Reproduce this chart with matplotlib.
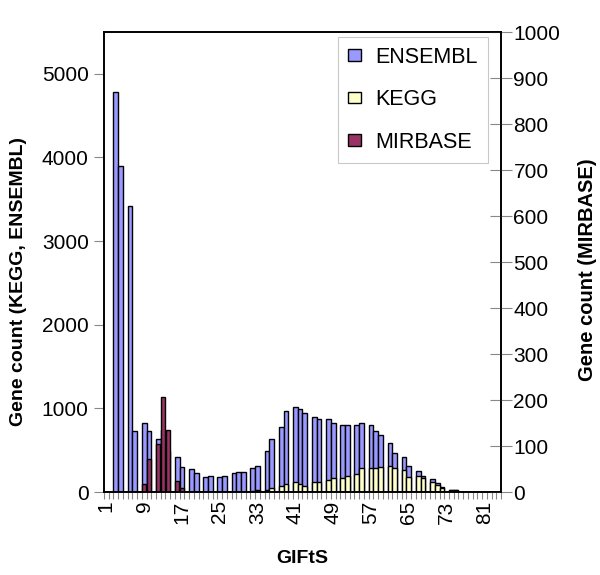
import numpy as np
import matplotlib
matplotlib.use("Agg")
import matplotlib.pyplot as plt
from matplotlib.ticker import FixedLocator

plt.rcParams['font.family'] = ['Liberation Sans', 'DejaVu Sans']

categories = list(range(1, 85))

ensembl = {3: 4780, 4: 3900, 6: 3420, 7: 733, 9: 821, 10: 733, 12: 634, 13: 740,
           14: 490, 16: 415, 17: 295, 19: 271, 20: 223, 22: 183, 23: 195, 25: 183,
           26: 195, 28: 223, 29: 243, 30: 243, 32: 290, 33: 315, 35: 490, 36: 634,
           38: 775, 39: 970, 41: 1020, 42: 992, 43: 945, 45: 900, 46: 873, 48: 869,
           49: 825, 51: 801, 52: 801, 54: 801, 55: 821, 57: 801, 58: 729, 59: 678,
           61: 582, 62: 462, 64: 414, 65: 311, 67: 247, 68: 195, 70: 151, 71: 104,
           72: 60, 74: 28, 75: 28}
kegg = {32: 10, 33: 24, 35: 24, 36: 48, 38: 72, 39: 92, 41: 124, 42: 96, 43: 72,
        45: 124, 46: 124, 48: 143, 49: 163, 51: 171, 52: 187, 54: 215, 55: 283,
        57: 283, 58: 283, 59: 303, 61: 311, 62: 283, 64: 263, 65: 183, 67: 191,
        68: 163, 70: 120, 71: 84, 72: 52, 74: 20, 75: 20}
mirbase = {9: 17, 10: 72, 12: 105, 13: 207, 14: 135, 16: 25, 17: 8}

ens_vals = [ensembl.get(c, 0) for c in categories]
kegg_vals = [kegg.get(c, 0) for c in categories]
mir_vals = [mirbase.get(c, 0) for c in categories]

xtick_labels = [str(v) for v in range(1, 85, 8)]

fig = plt.figure(figsize=(6.0, 5.75), dpi=100)
ax = fig.add_axes([0.1733, 0.1443, 0.6617, 0.8])
ax2 = ax.twinx()

c_ens = '#9999FF'
c_kegg = '#FFFFCC'
c_mir = '#993366'

ax.bar(categories, ens_vals, width=1.0, color=c_ens, edgecolor='black', linewidth=1.0, label='ENSEMBL')
ax.bar(categories, kegg_vals, width=1.0, color=c_kegg, edgecolor='black', linewidth=1.0, label='KEGG')
ax2.bar(categories, mir_vals, width=0.8, color=c_mir, edgecolor='black', linewidth=1.0, label='MIRBASE')

ax.set_xlim(0.5, 84.5)
ax.set_ylim(0, 5500)
ax2.set_ylim(0, 1000)

ax.set_yticks([0, 1000, 2000, 3000, 4000, 5000])
ax2.set_yticks(list(range(0, 1001, 100)))
ax.set_xticks([int(s) for s in xtick_labels])
ax.set_xticklabels(xtick_labels, rotation=90)
ax.xaxis.set_minor_locator(FixedLocator(np.arange(0.5, 85, 1.0)))

ax.tick_params(axis='x', which='major', length=0, labelsize=15, pad=6)
ax.tick_params(axis='x', which='minor', length=5, color='#888888', width=0.8)
ax.tick_params(axis='y', length=7, color='#888888', labelsize=15, pad=4)
ax2.tick_params(axis='y', direction='inout', length=16, color='#888888', labelsize=15, pad=1)

for a in (ax, ax2):
    for s in a.spines.values():
        s.set_color('black')
        s.set_linewidth(1.2)

ax.set_ylabel('Gene count (KEGG, ENSEMBL)', fontsize=14, fontweight='bold')
ax.yaxis.set_label_coords(-0.195, 0.457)
ax2.set_ylabel('Gene count (MIRBASE)', fontsize=14.5, fontweight='bold')
ax2.yaxis.set_label_coords(1.195, 0.483)
ax.set_xlabel('GIFtS', fontsize=14, fontweight='bold', labelpad=19)

h1, l1 = ax.get_legend_handles_labels()
h2, l2 = ax2.get_legend_handles_labels()
leg = ax2.legend(h1 + h2, l1 + l2, loc='upper right', bbox_to_anchor=(0.967, 0.989),
                 fontsize=15.5, frameon=True, fancybox=False, edgecolor='#BBBBBB',
                 handlelength=0.6, handleheight=0.45, labelspacing=1.0,
                 handletextpad=0.7, borderpad=0.45, borderaxespad=0)
leg.get_frame().set_linewidth(0.8)

fig.savefig('out.png', dpi=100, facecolor='white')
